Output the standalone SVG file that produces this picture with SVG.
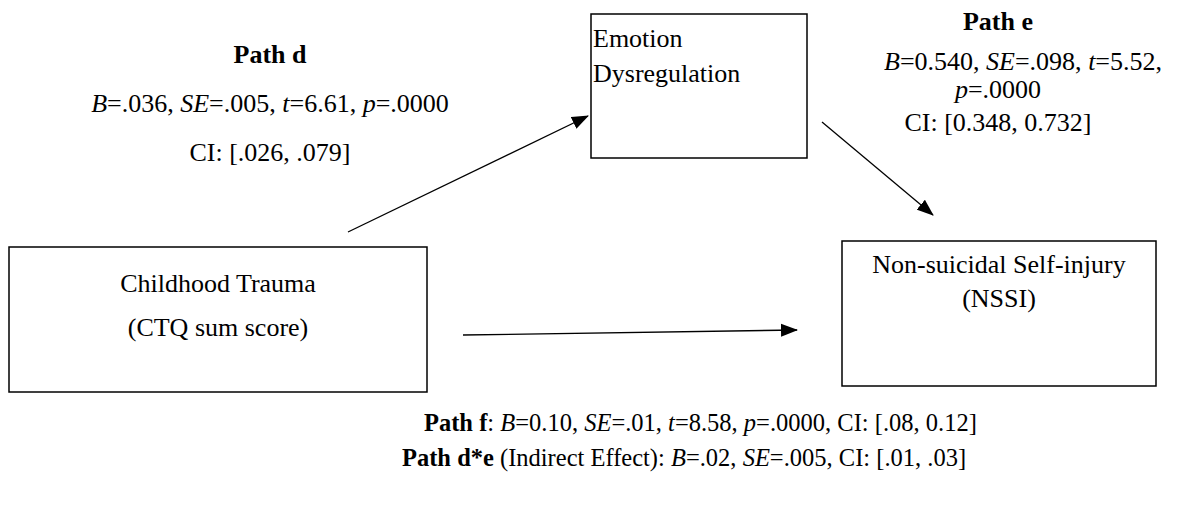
<svg xmlns="http://www.w3.org/2000/svg" width="1184" height="507" viewBox="0 0 1184 507">
<defs>
<marker id="ah" markerWidth="17" markerHeight="14" refX="16" refY="7" orient="auto" markerUnits="userSpaceOnUse">
<path d="M0,0.5 L17,7 L0,13.5 Z" fill="#000"/>
</marker>
<style>
.box{fill:#fff;stroke:#000;stroke-width:1.5}
.t{font-family:"Liberation Serif","Times New Roman",serif;font-size:26px;fill:#000}
.s{font-size:24.5px}
.b{font-weight:bold}
.i{font-style:italic}
.c{text-anchor:middle}
.ln{stroke:#000;stroke-width:1.3;fill:none;marker-end:url(#ah)}
</style>
</defs>
<rect width="1184" height="507" fill="#fff"/>
<g id="edges">
<line class="ln" x1="348" y1="232" x2="588" y2="116"/>
<line class="ln" x1="822" y1="122" x2="933" y2="215"/>
<line class="ln" x1="463" y1="335" x2="797" y2="330"/>
</g>
<g id="node-ctq">
<rect class="box" x="9" y="247" width="418" height="145"/>
<text class="t c" x="218" y="292">Childhood Trauma</text>
<text class="t c" x="218" y="336">(CTQ sum score)</text>
</g>
<g id="node-ed">
<rect class="box" x="591" y="14" width="216" height="144"/>
<text class="t" x="593" y="47">Emotion</text>
<text class="t" x="593" y="82">Dysregulation</text>
</g>
<g id="node-nssi">
<rect class="box" x="842" y="241" width="314" height="145"/>
<text class="t c" x="999" y="273">Non-suicidal Self-injury</text>
<text class="t c" x="999" y="307">(NSSI)</text>
</g>
<g id="label-d">
<text class="t b c" x="270" y="63">Path d</text>
<text class="t c" x="270" y="112"><tspan class="i">B</tspan>=.036, <tspan class="i">SE</tspan>=.005, <tspan class="i">t</tspan>=6.61, <tspan class="i">p</tspan>=.0000</text>
<text class="t c" x="270" y="161">CI: [.026, .079]</text>
</g>
<g id="label-e">
<text class="t b c" x="998" y="30">Path e</text>
<text class="t" x="884" y="70"><tspan class="i">B</tspan>=0.540, <tspan class="i">SE</tspan>=.098, <tspan class="i">t</tspan>=5.52,</text>
<text class="t c" x="998" y="98"><tspan class="i">p</tspan>=.0000</text>
<text class="t c" x="998" y="131">CI: [0.348, 0.732]</text>
</g>
<g id="label-f">
<text class="t s" x="424" y="431"><tspan class="b">Path f</tspan>: <tspan class="i">B</tspan>=0.10, <tspan class="i">SE</tspan>=.01, <tspan class="i">t</tspan>=8.58, <tspan class="i">p</tspan>=.0000, CI: [.08, 0.12]</text>
<text class="t s" x="402" y="466"><tspan class="b">Path d*e</tspan> (Indirect Effect): <tspan class="i">B</tspan>=.02, <tspan class="i">SE</tspan>=.005, CI: [.01, .03]</text>
</g>
</svg>
